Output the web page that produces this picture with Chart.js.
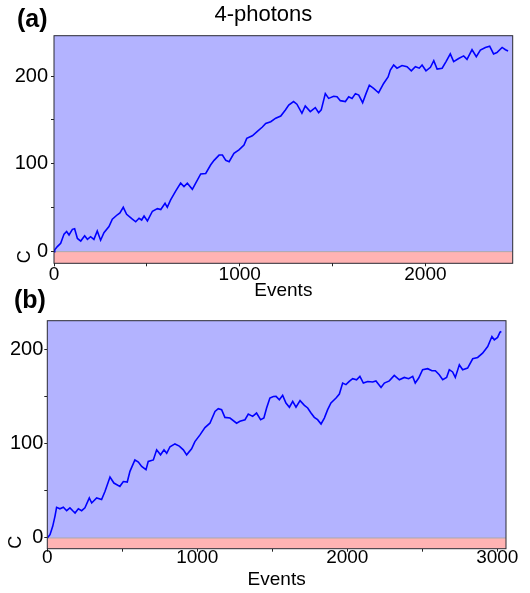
<!DOCTYPE html>
<html>
<head>
<meta charset="utf-8">
<script src="https://cdn.jsdelivr.net/npm/chart.js@4"></script>
<style>
  body { margin: 0; background: #fff; }
  #wrap { position: relative; width: 530px; height: 593px; font-family: Arial, "Liberation Sans", sans-serif; }
  .panel-label { position: absolute; font-weight: bold; font-size: 25px; line-height: 1; color: #000; }
  canvas { position: absolute; left: 0; }
</style>
</head>
<body>
<div id="wrap">
  <canvas id="chart-a" width="530" height="305" style="top:0"></canvas>
  <canvas id="chart-b" width="530" height="308" style="top:285px"></canvas>
  <div class="panel-label" style="left:17px;top:6px">(a)</div>
  <div class="panel-label" style="left:14px;top:287px">(b)</div>
</div>
<script>
// panel (a): 4-photons
const eventsA = [
  0, 4, 18, 36, 54, 68, 81, 99, 111, 126,
  144, 165, 180, 197, 215, 233, 251, 269, 296, 314,
  341, 355, 373, 391, 422, 440, 458, 472, 485, 503,
  530, 557, 575, 598, 610, 628, 655, 682, 700, 718,
  745, 763, 790, 817, 844, 862, 889, 907, 925, 943,
  969, 996, 1023, 1038, 1068, 1095, 1122, 1140, 1167, 1194,
  1221, 1246, 1264, 1290, 1308, 1335, 1353, 1380, 1407, 1425,
  1439, 1461, 1479, 1506, 1524, 1542, 1569, 1587, 1605, 1623,
  1641, 1662, 1680, 1698, 1721, 1748, 1775, 1799, 1811, 1829,
  1847, 1874, 1901, 1924, 1946, 1967, 1982, 2003, 2027, 2045,
  2063, 2090, 2111, 2134, 2152, 2179, 2206, 2224, 2251, 2274,
  2296, 2323, 2346, 2367, 2385, 2413, 2431, 2445
];
const countsA = [
  0, 2, 5.7, 9.5, 20, 23, 19, 25.4, 26, 15,
  12, 18, 14, 17, 14, 23.5, 13, 21.6, 28.5, 37,
  42, 44, 50.5, 42.5, 37, 34, 38, 36, 40.6, 35,
  46, 49, 48, 55, 50.5, 59, 69, 78, 74, 78,
  71, 78, 88.5, 89, 99, 104, 110, 110, 104, 102.5,
  112, 116, 121.5, 129, 132, 137, 142, 146, 148, 152,
  154.5, 161.4, 167, 171, 168, 157.6, 166, 159.5, 164, 158.3,
  161.5, 180, 174.6, 177, 176.5, 172, 171, 176.5, 174.6, 180,
  178.4, 169.7, 180, 189.6, 185.9, 181, 191.6, 199, 206.9, 212.6,
  209, 212, 210.6, 206, 210.6, 209, 212.6, 206, 210, 217.6,
  208, 209, 216.5, 225.3, 216.5, 220, 223, 219, 230, 222,
  229.6, 232.6, 234, 225.3, 226.8, 232.6, 230, 228.6
];
const xTicksA = [0, 500, 1000, 1500, 2000];

// panel (b)
const eventsB = [
  0, 18, 36, 51, 62, 84, 107, 129, 151, 173,
  185, 207, 229, 251, 280, 296, 329, 362, 385, 418,
  444, 484, 507, 533, 551, 584, 607, 629, 658, 673,
  707, 729, 755, 778, 796, 818, 851, 880, 907, 929,
  962, 984, 1018, 1051, 1084, 1118, 1140, 1162, 1184, 1218,
  1262, 1284, 1318, 1340, 1369, 1395, 1422, 1444, 1462, 1484,
  1507, 1525, 1547, 1569, 1591, 1614, 1636, 1658, 1685, 1714,
  1736, 1758, 1780, 1802, 1825, 1847, 1869, 1891, 1925, 1947,
  1969, 1991, 2013, 2036, 2062, 2084, 2107, 2136, 2169, 2191,
  2225, 2247, 2280, 2313, 2347, 2380, 2409, 2436, 2453, 2476,
  2502, 2536, 2564, 2587, 2613, 2636, 2662, 2680, 2702, 2720,
  2747, 2769, 2802, 2836, 2869, 2902, 2936, 2964, 2980, 3002,
  3018, 3027
];
const countsB = [
  0, 3.5, 12.4, 23, 32.6, 31, 32.6, 29, 32, 28.4,
  26.6, 31, 29, 32, 42.5, 37.2, 42.5, 40.8, 49.6, 64.8,
  58.4, 54.9, 60, 59.5, 70.8, 83, 80.7, 76, 72.6, 81.4,
  83, 93.7, 88.4, 93.7, 90, 97, 100, 97.7, 93.7, 88.4,
  94.8, 102.5, 109.6, 117.4, 122, 134.5, 137.4, 136.3, 128.2, 127.5,
  122, 124, 125.7, 131.7, 129.3, 132.8, 125.7, 127.5, 138.1, 148.7,
  150.4, 150.5, 147, 151.6, 143.5, 139, 145.3, 139, 146, 141,
  138.2, 132.9, 128.3, 125.8, 121.2, 127.5, 136.4, 143.5, 148.8, 153,
  164.7, 163, 166.4, 169.3, 168.2, 171.8, 164.7, 166.4, 165.8, 167,
  160, 164.7, 167, 172.8, 168.2, 170.7, 169.3, 171.8, 164.7, 170,
  178.9, 180, 177.8, 177.8, 173.5, 168.2, 170.7, 178.9, 176.5, 170.7,
  184.2, 178.9, 180.6, 190.5, 191.9, 196.5, 203.6, 214.2, 210.7, 213.2,
  218.8, 219.5
];
const xTicksB = [0, 500, 1000, 1500, 2000, 2500, 3000];

const yTicks = [0, 50, 100, 150, 200];

const FONT = 'Arial, "Liberation Sans", sans-serif';
Chart.defaults.font.family = FONT;
Chart.defaults.color = '#000';

// blue region above C=0, pink below, plus the box frame
const bandPlugin = {
  id: 'bands',
  beforeDraw(chart) {
    const { ctx, chartArea: a, scales: { y } } = chart;
    const y0 = y.getPixelForValue(0);
    ctx.save();
    ctx.fillStyle = '#b3b3ff';
    ctx.fillRect(a.left, a.top, a.width, y0 - a.top);
    ctx.fillStyle = '#ffb3b3';
    ctx.fillRect(a.left, y0, a.width, a.bottom - y0);
    ctx.strokeStyle = '#a9a9b0';
    ctx.lineWidth = 1;
    ctx.beginPath();
    ctx.moveTo(a.left, y0);
    ctx.lineTo(a.right, y0);
    ctx.stroke();
    ctx.restore();
  },
  afterDraw(chart) {
    const { ctx, chartArea: a } = chart;
    ctx.save();
    ctx.strokeStyle = '#2a2a33';
    ctx.lineWidth = 1;
    ctx.strokeRect(a.left, a.top, a.width, a.height);
    ctx.restore();
  }
};

function renderPanel(canvasId, events, counts, xTicks, cfg) {
  const ctx = document.getElementById(canvasId).getContext('2d');
  const points = events.map((e, i) => ({ x: e, y: counts[i] }));
  return new Chart(ctx, {
    type: 'line',
    data: {
      datasets: [{
        data: points,
        borderColor: '#0000ff',
        borderWidth: 1.6,
        pointRadius: 0,
        tension: 0,
        fill: false
      }]
    },
    options: {
      responsive: false,
      animation: false,
      layout: { padding: cfg.padding },
      plugins: {
        legend: { display: false },
        tooltip: { enabled: false },
        title: cfg.title ? {
          display: true,
          text: cfg.title,
          color: '#000',
          font: { size: 22, weight: 'normal' },
          padding: { top: 2, bottom: 7.3 }
        } : { display: false }
      },
      scales: {
        x: {
          type: 'linear',
          min: 0,
          max: cfg.xMax,
          afterBuildTicks: s => { s.ticks = xTicks.map(v => ({ value: v })); },
          grid: { drawOnChartArea: false, tickLength: 3, color: '#222' },
          border: { display: false },
          ticks: {
            autoSkip: false,
            maxRotation: 0,
            padding: cfg.xTickPad,
            font: { size: 19, lineHeight: 1 },
            callback: v => (v % 1000 === 0 ? String(v) : '')
          },
          title: { display: true, text: 'Events', font: { size: 19 }, padding: 0 },
          afterFit: s => { s.height = cfg.xHeight; }
        },
        y: {
          min: cfg.yMin,
          max: cfg.yMax,
          afterBuildTicks: s => { s.ticks = yTicks.map(v => ({ value: v })); },
          grid: { drawOnChartArea: false, tickLength: 3, color: '#222' },
          border: { display: false },
          ticks: {
            padding: cfg.yTickPad,
            font: { size: 20 },
            callback: v => (v % 100 === 0 ? String(v) : '')
          },
          title: {
            display: true,
            text: 'C',
            align: 'start',
            font: { size: 18 },
            padding: { top: cfg.cPad, bottom: 0 }
          },
          afterFit: s => { s.width = cfg.yWidth; }
        }
      }
    },
    plugins: [bandPlugin]
  });
}

renderPanel('chart-a', eventsA, countsA, xTicksA, {
  title: '4-photons',
  padding: { top: 0, right: 17.3, bottom: 3.2, left: 14 },
  xMax: 2470, yMin: -13.3, yMax: 246,
  xHeight: 38.5, yWidth: 40,
  xTickPad: -1, yTickPad: 3, cPad: 0
});

renderPanel('chart-b', eventsB, countsB, xTicksB, {
  title: null,
  padding: { top: 35.7, right: 24, bottom: 1.6, left: 0 },
  xMax: 3058, yMin: -11.4, yMax: 231,
  xHeight: 42.7, yWidth: 47.3,
  xTickPad: -3, yTickPad: 1, cPad: 5
});
</script>
</body>
</html>
